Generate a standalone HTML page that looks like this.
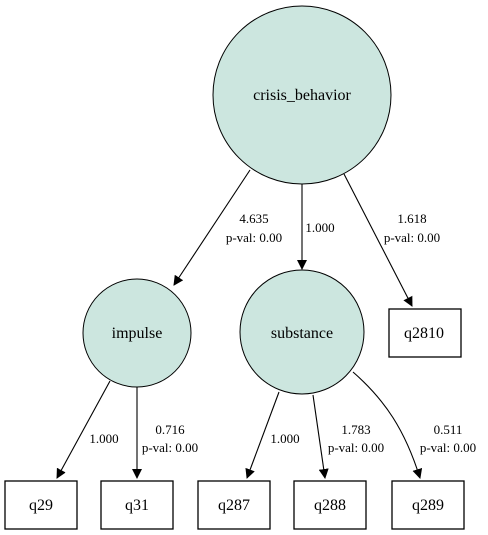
<!DOCTYPE html>
<html><head><style>body{margin:0;background:#fff}svg{display:block}text{font-family:"Liberation Serif",serif;fill:#000}</style></head><body>
<svg width="488" height="535" viewBox="0 0 488 535" xmlns="http://www.w3.org/2000/svg">
<defs><marker id="a" markerWidth="10" markerHeight="10" refX="9" refY="5" orient="auto" markerUnits="userSpaceOnUse"><path d="M0,0 L10,5 L0,10 z" fill="#000"/></marker></defs>
<g fill="#cce6df" stroke="#000" stroke-width="1">
<circle cx="302" cy="95" r="89"/>
<circle cx="137" cy="333" r="54"/>
<circle cx="302" cy="332" r="62"/>
</g>
<g fill="#fff" stroke="#000" stroke-width="1.3">
<rect x="389" y="309" width="72" height="48"/>
<rect x="5" y="481" width="72" height="48"/>
<rect x="101" y="481" width="72" height="48"/>
<rect x="198" y="481" width="72" height="48"/>
<rect x="294" y="481" width="72" height="48"/>
<rect x="392" y="481" width="72" height="48"/>
</g>
<g stroke="#000" stroke-width="1.1" fill="none" marker-end="url(#a)">
<line x1="250" y1="170" x2="174" y2="285"/>
<line x1="302" y1="184" x2="302" y2="269"/>
<line x1="344" y1="174" x2="412" y2="306"/>
<line x1="110" y1="381" x2="57" y2="478"/>
<line x1="137" y1="387" x2="137" y2="478"/>
<line x1="279" y1="392" x2="247" y2="478"/>
<line x1="313" y1="395" x2="325" y2="478"/>
<path d="M353,372 C385,400 405,430 420,478"/>
</g>
<g font-size="16" text-anchor="middle">
<text x="302" y="100">crisis_behavior</text>
<text x="137" y="338">impulse</text>
<text x="302" y="338">substance</text>
<text x="424" y="338">q2810</text>
<text x="41" y="510">q29</text>
<text x="137" y="510">q31</text>
<text x="234" y="510">q287</text>
<text x="330" y="510">q288</text>
<text x="428" y="510">q289</text>
</g>
<g font-size="13" text-anchor="middle">
<text x="254" y="223">4.635</text><text x="254" y="242">p-val: 0.00</text>
<text x="320" y="232">1.000</text>
<text x="412" y="223">1.618</text><text x="412" y="242">p-val: 0.00</text>
<text x="104" y="443">1.000</text>
<text x="170" y="434">0.716</text><text x="170" y="452">p-val: 0.00</text>
<text x="285" y="443">1.000</text>
<text x="356" y="434">1.783</text><text x="356" y="452">p-val: 0.00</text>
<text x="448" y="434">0.511</text><text x="448" y="452">p-val: 0.00</text>
</g>
</svg>
</body></html>
